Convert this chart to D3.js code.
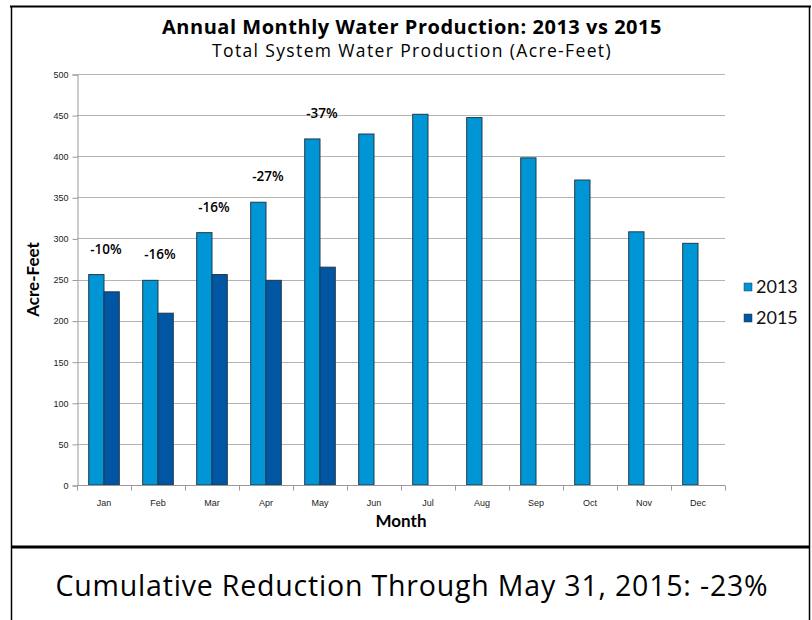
<!DOCTYPE html>
<html>
<head>
<meta charset="utf-8">
<script src="https://cdn.jsdelivr.net/npm/d3@7"></script>
<style>
  body { margin: 0; background: #fff; }
  svg { display: block; }
  .tick text { font-family: 'Liberation Sans', sans-serif; font-size: 9px; fill: #222; }
</style>
</head>
<body>
<div id="chart"></div>
<script>
var months = ['Jan', 'Feb', 'Mar', 'Apr', 'May', 'Jun', 'Jul', 'Aug', 'Sep', 'Oct', 'Nov', 'Dec']
var years = ['2013', '2015']
var values2013 = [256, 249, 307, 344, 421, 427, 451, 447, 398, 371, 308, 294]
var values2015 = [235, 209, 256, 249, 265]
var changeLabels = ['-10%', '-16%', '-16%', '-27%', '-37%']
var yTicks = [0, 50, 100, 150, 200, 250, 300, 350, 400, 450, 500]

var colors = {'2013': '#0096d6', '2015': '#0056a2'}

var width = 812
var height = 620
var plot = {left: 77, right: 725, top: 74, bottom: 485}

var svg = d3.select('#chart').append('svg')
  .attr('width', width)
  .attr('height', height)

// widen a text with letter spacing so it spans the wanted width (the original font is wider)
function fitWidth (sel, target) {
  var len = sel.node().getComputedTextLength()
  var n = sel.text().length
  if (len > 0 && len < target) sel.style('letter-spacing', ((target - len) / n) + 'px')
  return sel
}

// frame
svg.append('line').attr('x1', 10).attr('x2', 811).attr('y1', 6.5).attr('y2', 6.5)
  .attr('stroke', '#000').attr('stroke-width', 2)
svg.append('line').attr('x1', 11.5).attr('x2', 11.5).attr('y1', 6).attr('y2', 620)
  .attr('stroke', '#000').attr('stroke-width', 1.5)
svg.append('line').attr('x1', 809.5).attr('x2', 809.5).attr('y1', 6).attr('y2', 620)
  .attr('stroke', '#000').attr('stroke-width', 1.5)
svg.append('line').attr('x1', 11).attr('x2', 810).attr('y1', 547).attr('y2', 547)
  .attr('stroke', '#000').attr('stroke-width', 3)

// titles
fitWidth(svg.append('text')
  .attr('x', 412).attr('y', 34)
  .attr('text-anchor', 'middle')
  .style('font-family', "'Open Sans', sans-serif").style('font-weight', 700).style('font-size', '20px')
  .text('Annual Monthly Water Production: 2013 vs 2015'), 500)

fitWidth(svg.append('text')
  .attr('x', 412).attr('y', 57)
  .attr('text-anchor', 'middle')
  .style('font-family', "'Open Sans', sans-serif").style('font-weight', 400).style('font-size', '17.5px')
  .text('Total System Water Production (Acre-Feet)'), 400)

var x = d3.scaleBand().domain(months).range([plot.left, plot.right])
var x1 = d3.scaleBand().domain(years).range([0, x.bandwidth()]).paddingInner(0).paddingOuter(0.765)
var y = d3.scaleLinear().domain([0, 500]).range([plot.bottom, plot.top])

// gridlines
svg.append('g').selectAll('line')
  .data(yTicks.slice(1))
  .enter().append('line')
  .attr('x1', plot.left).attr('x2', plot.right)
  .attr('y1', function (d) { return Math.round(y(d)) + 0.5 })
  .attr('y2', function (d) { return Math.round(y(d)) + 0.5 })
  .attr('stroke', '#b4b4b4').attr('stroke-width', 1)

// y axis
var yAxis = svg.append('g')
  .attr('transform', 'translate(' + (plot.left + 0.5) + ',0.5)')
  .call(d3.axisLeft(y).tickValues(yTicks).tickSize(5).tickPadding(4))
yAxis.select('.domain').attr('stroke', '#999')
yAxis.selectAll('.tick line').attr('stroke', '#999')

// bars
var groups = svg.append('g').selectAll('g')
  .data(months)
  .enter().append('g')
  .attr('transform', function (d) { return 'translate(' + x(d) + ',0)' })

groups.append('rect')
  .attr('x', x1('2013'))
  .attr('width', x1.bandwidth())
  .attr('y', function (d, i) { return y(values2013[i]) })
  .attr('height', function (d, i) { return y(0) - y(values2013[i]) })
  .attr('fill', colors['2013'])
  .attr('stroke', '#22384a').attr('stroke-width', 1)

groups.filter(function (d, i) { return i < values2015.length })
  .append('rect')
  .attr('x', x1('2015'))
  .attr('width', x1.bandwidth())
  .attr('y', function (d, i) { return y(values2015[i]) })
  .attr('height', function (d, i) { return y(0) - y(values2015[i]) })
  .attr('fill', colors['2015'])
  .attr('stroke', '#22384a').attr('stroke-width', 1)

// percent change labels
groups.filter(function (d, i) { return i < changeLabels.length })
  .append('text')
  .attr('x', x.bandwidth() / 2 + 2)
  .attr('y', function (d, i) { return y(values2013[i]) - 21 })
  .attr('text-anchor', 'middle')
  .style('font-family', "'Open Sans', sans-serif").style('font-weight', 600).style('font-size', '13.5px')
  .text(function (d, i) { return changeLabels[i] })

// x axis
var xAxisG = svg.append('g')
  .attr('transform', 'translate(0,' + (plot.bottom + 0.5) + ')')
xAxisG.append('line')
  .attr('x1', plot.left).attr('x2', plot.right)
  .attr('stroke', '#999')
xAxisG.selectAll('.sep')
  .data(months.concat(['end']))
  .enter().append('line')
  .attr('class', 'sep')
  .attr('x1', function (d, i) { return Math.round(plot.left + i * x.step()) + 0.5 })
  .attr('x2', function (d, i) { return Math.round(plot.left + i * x.step()) + 0.5 })
  .attr('y1', 0).attr('y2', 5)
  .attr('stroke', '#999')
xAxisG.selectAll('.lbl')
  .data(months)
  .enter().append('text')
  .attr('class', 'lbl')
  .attr('x', function (d) { return x(d) + x.bandwidth() / 2 })
  .attr('y', 20)
  .attr('text-anchor', 'middle')
  .style('font-family', "'Liberation Sans', sans-serif").style('font-size', '9px').style('fill', '#222')
  .text(function (d) { return d })

// axis titles
svg.append('text')
  .attr('x', (plot.left + plot.right) / 2).attr('y', 527)
  .attr('text-anchor', 'middle')
  .style('font-family', 'Lato, sans-serif').style('font-weight', 700).style('font-size', '17px')
  .text('Month')

svg.append('text')
  .attr('transform', 'translate(39,' + ((plot.top + plot.bottom) / 2) + ') rotate(-90)')
  .attr('text-anchor', 'middle')
  .style('font-family', 'Lato, sans-serif').style('font-weight', 700).style('font-size', '17px')
  .text('Acre-Feet')

// legend
var legend = svg.append('g').selectAll('g')
  .data(years)
  .enter().append('g')
  .attr('transform', function (d, i) { return 'translate(744,' + (283 + i * 31) + ')' })
legend.append('rect')
  .attr('width', 8).attr('height', 8)
  .attr('fill', function (d) { return colors[d] })
  .attr('stroke', '#22384a').attr('stroke-width', 0.5)
legend.append('text')
  .attr('x', 12).attr('y', 10)
  .style('font-family', 'Lato, sans-serif').style('font-size', '18px').style('fill', '#111')
  .text(function (d) { return d })

// footer
fitWidth(svg.append('text')
  .attr('x', 412).attr('y', 596)
  .attr('text-anchor', 'middle')
  .style('font-family', "'Open Sans', sans-serif").style('font-weight', 400).style('font-size', '28.5px')
  .text('Cumulative Reduction Through May 31, 2015: -23%'), 713)
</script>
</body>
</html>
